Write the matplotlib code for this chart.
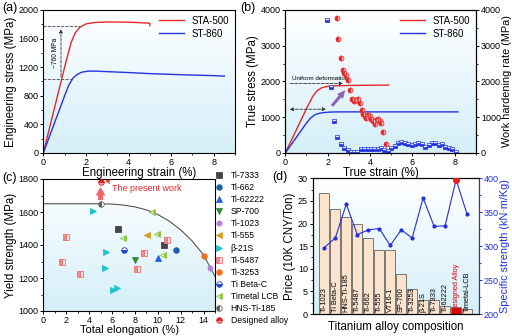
import matplotlib
matplotlib.use('Agg')
import matplotlib.pyplot as plt
import numpy as np
from matplotlib.colors import LinearSegmentedColormap
from matplotlib.lines import Line2D
from matplotlib.patches import Polygon
from matplotlib.ticker import AutoMinorLocator, MultipleLocator

plt.rcParams['font.family'] = ['Liberation Sans', 'DejaVu Sans']
plt.rcParams['axes.linewidth'] = 0.8

# ---- (a) engineering stress-strain ----
sta_eng_strain = [0, 0.5, 1.0, 1.3, 1.5, 1.7, 2.0, 2.4, 3.0, 4.0, 4.6, 5.0, 5.0]
sta_eng_stress = [0, 600, 1200, 1540, 1680, 1755, 1805, 1825, 1832, 1830, 1822, 1815, 1780]
st_eng_strain = [0, 0.5, 1.0, 1.2, 1.4, 1.6, 1.8, 2.1, 2.5, 3, 4, 5, 6, 7, 8, 8.5]
st_eng_stress = [0, 400, 800, 950, 1050, 1100, 1130, 1145, 1145, 1138, 1125, 1110, 1100, 1090, 1082, 1075]

# ---- (b) true stress-strain + work hardening ----
sta_true_strain = [0, 0.5, 1.0, 1.3, 1.5, 1.7, 2.0, 2.4, 3.0, 4.0, 4.88]
sta_true_stress = [0, 620, 1240, 1590, 1740, 1820, 1865, 1880, 1890, 1895, 1900]
st_true_strain = [0, 0.5, 1.0, 1.2, 1.4, 1.6, 1.8, 2.1, 2.5, 3, 4, 5, 6, 7, 8.15]
st_true_stress = [0, 420, 840, 980, 1070, 1110, 1130, 1145, 1150, 1150, 1150, 1150, 1150, 1150, 1150]
sta_whr_strain = [2.43, 2.51, 2.62, 2.70, 2.78, 2.85, 2.95, 3.07, 3.14, 3.22, 3.29, 3.37, 3.45,
                  3.53, 3.61, 3.67, 3.75, 3.83, 3.91, 3.98, 4.06, 4.14, 4.22, 4.30, 4.38, 4.45,
                  4.53, 4.63, 4.74]
sta_whr = [3785, 3196, 2645, 2318, 2243, 2178, 2037, 1757, 1514, 1448, 1495, 1476, 1523,
           1402, 1215, 1103, 1047, 990, 1056, 1047, 963, 897, 822, 916, 963, 897,
           841, 589, 243]
st_whr_strain = [1.99, 2.15, 2.31, 2.46, 2.62, 2.78, 2.94, 3.10, 3.25, 3.40, 3.56, 3.72, 3.88,
                 4.04, 4.20, 4.36, 4.52, 4.68, 4.84, 5.00, 5.16, 5.32, 5.48, 5.64, 5.80, 5.96,
                 6.12, 6.28, 6.44, 6.60, 6.76, 6.92, 7.08, 7.24, 7.40, 7.56, 7.72, 7.88, 8.04]
st_whr = [3720, 1850, 900, 450, 240, 150, 80, 40, 20, 30, 100, 110, 110,
          100, 110, 100, 130, 80, 60, 150, 200, 280, 300, 280, 260, 220,
          260, 290, 240, 180, 230, 270, 280, 230, 240, 180, 130, 100, 30]

# ---- (c) yield strength vs elongation ----
c_series = {
    'Ti-7333': ([6.5, 10.55], [1496, 1398]),
    'Ti-662': ([11.55], [1372]),
    'Ti-62222': ([10.05], [1324]),
    'SP-700': ([8.0], [1308]),
    'Ti-1023': ([14.6], [1263]),
    'Ti-555': ([9.05], [1463]),
    'β-21S': ([4.3, 5.5, 5.4, 6.05, 6.45], [1605, 1356, 1263, 1125, 1141]),
    'Ti-5487': ([2.0, 1.6, 3.2, 8.8, 8.2, 10.85], [1448, 1297, 1227, 1350, 1255, 1432]),
    'Ti-3253': ([14.05], [1336]),
    'Ti Beta-C': ([7.05], [1370]),
    'Timetal LCB': ([9.97, 7.0, 9.48, 10.5], [1468, 1442, 1599, 1338]),
    'HNS-Ti-185': ([5.0], [1649]),
    'Designed alloy': ([5.0], [1782]),
}
c_styles = {
    'Ti-7333': dict(marker='s', mfc='#454545', mec='#454545'),
    'Ti-662': dict(marker='o', mfc='#1f5fa5', mec='#1f5fa5'),
    'Ti-62222': dict(marker='^', mfc='#2462e0', mec='#2462e0'),
    'SP-700': dict(marker='v', mfc='#2e8b3a', mec='#2e8b3a'),
    'Ti-1023': dict(marker='h', mfc='#b57fe0', mec='#b57fe0'),
    'Ti-555': dict(marker='<', mfc='#d4a020', mec='#d4a020'),
    'β-21S': dict(marker='>', mfc='#1fc3cc', mec='#1fc3cc'),
    'Ti-5487': dict(marker='s', mfc='#f28a8a', mec='#f07070', fillstyle='left', markerfacecoloralt='#fde4e4'),
    'Ti-3253': dict(marker='o', mfc='#f07020', mec='#f07020'),
    'Ti Beta-C': dict(marker='o', mfc='#2040d0', mec='#2040d0', fillstyle='bottom', markerfacecoloralt='white'),
    'Timetal LCB': dict(marker='<', mfc='#8cc63f', mec='#8cc63f', fillstyle='right', markerfacecoloralt='#e8f5d0'),
    'HNS-Ti-185': dict(marker='o', mfc='#555555', mec='#666666', fillstyle='left', markerfacecoloralt='white'),
    'Designed alloy': dict(marker='o', mfc='#e02020', mec='#e02020', fillstyle='top', markerfacecoloralt='#f8a0a0'),
}
env_elong = [0, 1, 2, 3, 4, 5, 6, 7, 8, 9, 10, 11, 12, 13, 14, 15]
env_ys = [1650, 1650, 1650, 1650, 1650, 1650, 1648, 1642, 1631, 1613, 1585, 1545, 1492, 1425, 1340, 1210]

# ---- (d) price and specific strength ----
alloys = ['Ti-1023', 'Ti Beta-C', 'HNS-Ti-185', 'Ti-5487', 'Ti-662', 'Ti-555', 'VT16-1',
          'SP-700', 'Ti-3253', 'β-21S', 'Ti-7333', 'Ti-62222', 'Designed Alloy', 'Timetal-LCB']
price = [26.8, 23.2, 21.5, 19.8, 16.9, 14.1, 14.1, 8.8, 5.5, 3.1, 3.0, 1.8, 1.5, 1.0]
spec_strength = [298, 312, 362, 317, 324, 326, 301, 324, 312, 371, 329, 330, 398, 347]

bg_cmap = LinearSegmentedColormap.from_list('bg', ['white', '#d5eff9'])
LBL = 8.3   # axis label size
TCK = 6.5   # tick label size


def shade(ax, clip=None):
    grad = np.linspace(0, 1, 256).reshape(-1, 1)
    im = ax.imshow(grad, cmap=bg_cmap, extent=[0, 1, 0, 1], transform=ax.transAxes,
                   aspect='auto', origin='upper', zorder=0)
    if clip is not None:
        im.set_clip_path(clip)
    return im


def ticks(ax, which_minor=True):
    ax.tick_params(which='major', direction='out', length=2.5, width=0.7, labelsize=TCK, pad=1)
    ax.tick_params(which='minor', direction='out', length=1.5, width=0.6)
    if which_minor:
        ax.xaxis.set_minor_locator(AutoMinorLocator(2))
        ax.yaxis.set_minor_locator(AutoMinorLocator(2))


fig = plt.figure(figsize=(5.12, 3.36), dpi=100)
W, H = 512, 336


def box(x0, x1, y0, y1):
    return [x0 / W, 1 - y1 / H, (x1 - x0) / W, (y1 - y0) / H]


# (a)
ax_a = fig.add_axes(box(43.3, 235, 10, 153))
shade(ax_a)
ax_a.plot(sta_eng_strain, sta_eng_stress, color='#e8262a', lw=1.0, label='STA-500')
ax_a.plot(st_eng_strain, st_eng_stress, color='#2432e0', lw=1.0, label='ST-860')
ax_a.plot([0, 1.72], [1776, 1776], color='#444444', lw=0.6, ls='--')
ax_a.plot([0, 1.34], [1030, 1030], color='#444444', lw=0.6, ls='--')
ax_a.annotate('', xy=(0.83, 1770), xytext=(0.83, 1030),
              arrowprops=dict(arrowstyle='-|>', lw=0.6, ls='--', color='#333333', mutation_scale=5))
ax_a.text(0.58, 1400, '~760 MPa', rotation=90, fontsize=4.8, ha='center', va='center')
ax_a.set_xlim(0, 9)
ax_a.set_ylim(0, 2000)
ax_a.xaxis.set_major_locator(MultipleLocator(2))
ax_a.yaxis.set_major_locator(MultipleLocator(400))
ticks(ax_a)
ax_a.set_xlabel('Engineering strain (%)', fontsize=LBL, labelpad=0)
ax_a.set_ylabel('Engineering stress (MPa)', fontsize=LBL, labelpad=1)
ax_a.legend(loc='upper right', fontsize=7, frameon=False, handlelength=2.6,
            borderaxespad=0.2, labelspacing=0.3)

# (b)
ax_b = fig.add_axes(box(285.3, 476, 10, 153))
shade(ax_b)
ax_b.plot(sta_true_strain, sta_true_stress, color='#e8262a', lw=1.0, label='STA-500')
ax_b.plot(st_true_strain, st_true_stress, color='#2432e0', lw=1.0, label='ST-860')
ax_b.annotate('', xy=(0.07, 1945), xytext=(2.85, 1945),
              arrowprops=dict(arrowstyle='<|-', lw=0.6, ls='--', color='#333333', mutation_scale=5))
ax_b.annotate('', xy=(0.07, 1224), xytext=(2.05, 1224),
              arrowprops=dict(arrowstyle='<|-|>', lw=0.6, ls='--', color='#333333', mutation_scale=5))
ax_b.text(0.3, 2010, 'Uniform deformation', fontsize=4.5, va='bottom')
ax_b.annotate('', xy=(2.92, 1820), xytext=(2.12, 1260),
              arrowprops=dict(arrowstyle='simple,head_width=0.55,head_length=0.6,tail_width=0.22',
                              color='#8a63b8', lw=0))
ax_b.set_xlim(0, 9)
ax_b.set_ylim(0, 4000)
ax_b.xaxis.set_major_locator(MultipleLocator(2))
ax_b.yaxis.set_major_locator(MultipleLocator(1000))
ticks(ax_b)
ax_b.set_xlabel('True strain (%)', fontsize=LBL, labelpad=0)
ax_b.set_ylabel('True stress (MPa)', fontsize=LBL, labelpad=1)
ax_b.legend(loc='upper right', fontsize=7, frameon=False, handlelength=2.6,
            borderaxespad=0.2, labelspacing=0.3)
ax_b2 = ax_b.twinx()
ax_b2.plot(sta_whr_strain, sta_whr, ls='none', marker='o', ms=3.6, mfc='#e82020', mec='#e82020',
           fillstyle='left', markerfacecoloralt='#f9b0b0', mew=0.5)
ax_b2.plot(st_whr_strain, st_whr, ls='none', marker='s', ms=2.8, mfc='#2030e0', mec='#2030e0',
           fillstyle='bottom', markerfacecoloralt='#e8ecff', mew=0.5)
ax_b2.set_ylim(0, 4000)
ax_b2.yaxis.set_major_locator(MultipleLocator(1000))
ax_b2.yaxis.set_minor_locator(AutoMinorLocator(2))
ax_b2.tick_params(which='major', direction='out', length=2.5, width=0.7, labelsize=TCK, pad=1)
ax_b2.tick_params(which='minor', direction='out', length=1.5, width=0.6)
ax_b2.set_ylabel('Work hardening rate (MPa)', fontsize=7.8, labelpad=1)

# (c)
ax_c = fig.add_axes(box(43.3, 215, 179, 311))
env_poly = Polygon(list(zip(env_elong, env_ys)) + [(15, 1000), (0, 1000)], closed=True,
                   facecolor='none', edgecolor='none', transform=ax_c.transData)
ax_c.add_patch(env_poly)
shade(ax_c, clip=env_poly)
ax_c.plot(env_elong, env_ys, color='#555555', lw=0.8, zorder=2)
handles = []
for name, (xs, ys) in c_series.items():
    st = c_styles[name]
    ax_c.plot(xs, ys, ls='none', ms=4, mew=0.6, zorder=4, **st)
    handles.append(Line2D([], [], ls='none', ms=4, mew=0.6, label=name, **st))
ax_c.annotate('', xy=(5.0, 1768), xytext=(5.0, 1655),
              arrowprops=dict(arrowstyle='simple,head_width=0.7,head_length=0.6,tail_width=0.35',
                              color='#f26464', lw=0), zorder=3)
ax_c.annotate('The present work', xy=(5.3, 1790), xytext=(6.0, 1745),
              fontsize=6.5, color='#e8262a', va='center',
              arrowprops=dict(arrowstyle='->', color='#e8262a', lw=0.7, shrinkA=0, shrinkB=1))
ax_c.set_xlim(0, 15)
ax_c.set_ylim(1000, 1800)
ax_c.xaxis.set_major_locator(MultipleLocator(2))
ax_c.yaxis.set_major_locator(MultipleLocator(200))
ticks(ax_c)
ax_c.set_xlabel('Total elongation (%)', fontsize=8, labelpad=0)
ax_c.set_ylabel('Yield strength (MPa)', fontsize=LBL, labelpad=1)
ax_c.legend(handles=handles, loc='upper left', bbox_to_anchor=(216 / W, 1 - 171 / H),
            bbox_transform=fig.transFigure, frameon=False, fontsize=6.2, handlelength=0.8,
            handletextpad=0.9, labelspacing=0.36, borderaxespad=0, borderpad=0)

# (d)
ax_d = fig.add_axes(box(312.7, 478.7, 178.3, 314))
shade(ax_d)
xpos = np.arange(len(alloys))
bar_colors = ['#e00000' if a == 'Designed Alloy' else '#fbe3cc' for a in alloys]
ax_d.bar(xpos, price, width=0.9, color=bar_colors, edgecolor='#777777', lw=0.7, zorder=2)
for i, a in enumerate(alloys):
    ax_d.text(i, 0.4, a, rotation=90, ha='center', va='bottom', fontsize=5.3, zorder=3,
              color='#e00000' if a == 'Designed Alloy' else 'black')
ax_d.set_xlim(-1.06, 14.06)
ax_d.set_ylim(0, 30)
ax_d.set_xticks([])
ax_d.yaxis.set_major_locator(MultipleLocator(5))
ax_d.yaxis.set_minor_locator(AutoMinorLocator(2))
ax_d.tick_params(which='major', direction='out', length=2.5, width=0.7, labelsize=TCK, pad=1)
ax_d.tick_params(which='minor', direction='out', length=1.5, width=0.6)
ax_d.set_xlabel('Titanium alloy composition', fontsize=LBL, labelpad=5)
ax_d.set_ylabel('Price (10K CNY/Ton)', fontsize=LBL, labelpad=1)
ax_d2 = ax_d.twinx()
ax_d2.plot(xpos, spec_strength, color='#2030e0', lw=0.8, marker='o', ms=2, zorder=4)
ax_d2.plot([xpos[12]], [spec_strength[12]], ls='none', marker='o', ms=4, mfc='#e82020',
           mec='#e82020', zorder=5)
ax_d2.set_ylim(200, 400)
ax_d2.yaxis.set_major_locator(MultipleLocator(50))
ax_d2.yaxis.set_minor_locator(AutoMinorLocator(2))
ax_d2.tick_params(which='both', colors='#2030e0', direction='out', width=0.7, labelsize=TCK, pad=1)
ax_d2.tick_params(which='major', length=2.5)
ax_d2.tick_params(which='minor', length=1.5)
ax_d2.spines['right'].set_color('#2030e0')
ax_d2.set_ylabel('Specific strength (kN·m/Kg)', fontsize=7.8, color='#2030e0', labelpad=1)

fig.text(2 / W, 1 - 2 / H, '(a)', fontsize=9, va='top', ha='left')
fig.text(240 / W, 1 - 2 / H, '(b)', fontsize=9, va='top', ha='left')
fig.text(2 / W, 1 - 172 / H, '(c)', fontsize=9, va='top', ha='left')
fig.text(272 / W, 1 - 171 / H, '(d)', fontsize=9, va='top', ha='left')

fig.savefig('out.png', dpi=100)
